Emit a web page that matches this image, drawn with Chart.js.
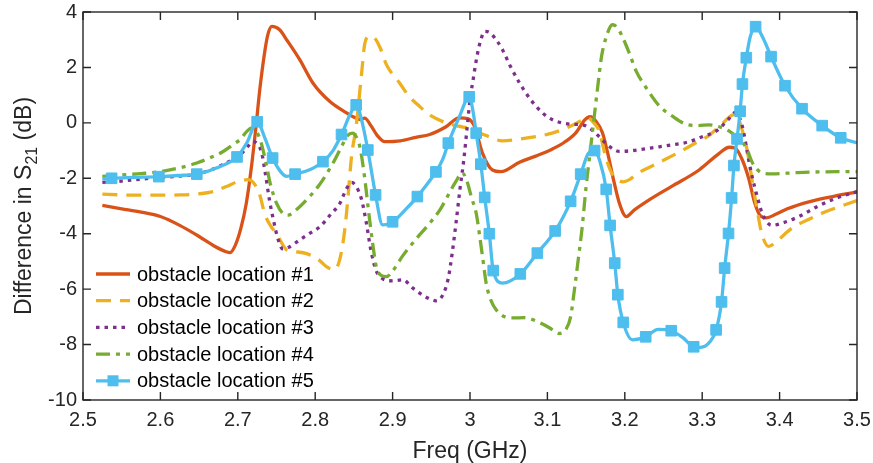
<!DOCTYPE html>
<html>
<head>
<meta charset="utf-8">
<script src="https://cdn.jsdelivr.net/npm/chart.js@4.4.1/dist/chart.umd.min.js"></script>
<style>
    html, body { margin: 0; padding: 0; background: #fff; }
    #wrap { width: 873px; height: 463px; }
</style>
</head>
<body>
<div id="wrap"><canvas id="grafico" width="873" height="463"></canvas></div>
<script>
// Eixos
const xTicks = [2.5, 2.6, 2.7, 2.8, 2.9, 3.0, 3.1, 3.2, 3.3, 3.4, 3.5];
const yTicks = [-10, -8, -6, -4, -2, 0, 2, 4];
const nomes = ['obstacle location #1', 'obstacle location #2', 'obstacle location #3', 'obstacle location #4', 'obstacle location #5'];

// obstacle location #1
const freq1 = [2.525,2.55,2.575,2.6,2.625,2.65,2.67,2.685,2.69,2.697,2.704,2.711,2.718,2.724,2.728,2.735,2.739,2.744,2.754,2.763,2.78,2.797,2.819,2.84,2.852,2.858,2.864,2.872,2.88,2.89,2.91,2.93,2.948,2.969,2.986,2.997,3.006,3.016,3.029,3.04,3.064,3.085,3.106,3.122,3.137,3.148,3.155,3.163,3.171,3.178,3.185,3.193,3.202,3.212,3.232,3.26,3.296,3.322,3.335,3.343,3.352,3.36,3.368,3.375,3.383,3.395,3.41,3.439,3.47,3.5];
const diff1 = [-2.98,-3.1,-3.22,-3.38,-3.7,-4.1,-4.45,-4.65,-4.68,-4.4,-3.8,-2.9,-1.5,0.0,1.1,2.6,3.2,3.48,3.36,3.0,2.28,1.44,0.77,0.37,0.18,0.12,0.17,-0.1,-0.45,-0.68,-0.65,-0.52,-0.42,-0.14,0.18,0.15,-0.14,-1.08,-1.7,-1.76,-1.42,-1.2,-0.95,-0.7,-0.35,0.1,0.22,0.05,-0.35,-1.1,-2.0,-2.9,-3.38,-3.15,-2.77,-2.3,-1.7,-1.1,-0.88,-0.92,-1.35,-2.0,-2.9,-3.35,-3.43,-3.3,-3.1,-2.84,-2.65,-2.5];

// obstacle location #2
const freq2 = [2.525,2.55,2.575,2.6,2.625,2.65,2.668,2.685,2.699,2.713,2.72,2.728,2.735,2.742,2.75,2.763,2.775,2.789,2.805,2.815,2.825,2.832,2.838,2.842,2.847,2.853,2.86,2.864,2.87,2.877,2.884,2.892,2.9,2.909,2.92,2.935,2.95,2.969,2.985,3.0,3.02,3.042,3.06,3.085,3.105,3.119,3.135,3.145,3.152,3.16,3.167,3.175,3.182,3.19,3.198,3.206,3.215,3.232,3.25,3.274,3.29,3.309,3.325,3.339,3.344,3.35,3.358,3.365,3.371,3.377,3.386,3.395,3.416,3.44,3.46,3.48,3.5];
const diff2 = [-2.57,-2.6,-2.61,-2.61,-2.6,-2.56,-2.48,-2.3,-2.13,-2.05,-2.15,-2.57,-3.3,-3.7,-4.0,-4.58,-4.65,-4.72,-4.95,-5.2,-5.3,-4.9,-3.9,-2.8,-1.2,-0.1,1.8,2.85,3.12,3.05,2.7,2.1,1.75,1.44,1.0,0.59,0.25,0.0,-0.12,-0.2,-0.45,-0.65,-0.6,-0.5,-0.38,-0.25,-0.05,0.1,0.18,0.0,-0.3,-1.2,-1.75,-2.05,-2.13,-2.05,-1.85,-1.6,-1.35,-1.0,-0.75,-0.45,-0.05,0.28,0.3,-0.1,-0.97,-2.17,-3.14,-4.0,-4.46,-4.3,-3.8,-3.45,-3.2,-3.0,-2.8];

// obstacle location #3
const freq3 = [2.525,2.55,2.575,2.6,2.625,2.647,2.665,2.681,2.695,2.705,2.713,2.719,2.725,2.731,2.736,2.741,2.746,2.752,2.758,2.765,2.78,2.795,2.806,2.82,2.832,2.84,2.847,2.853,2.86,2.866,2.872,2.879,2.887,2.9,2.913,2.926,2.944,2.956,2.965,2.972,2.977,2.982,2.987,2.992,2.996,3.0,3.004,3.009,3.014,3.019,3.026,3.035,3.042,3.052,3.064,3.078,3.094,3.106,3.119,3.132,3.145,3.155,3.167,3.18,3.193,3.21,3.235,3.26,3.283,3.3,3.318,3.333,3.343,3.348,3.352,3.356,3.36,3.365,3.37,3.378,3.39,3.405,3.425,3.45,3.475,3.5];
const diff3 = [-2.15,-2.1,-2.03,-1.97,-1.92,-1.85,-1.7,-1.5,-1.3,-1.1,-0.85,-0.68,-0.75,-1.1,-1.9,-2.8,-3.5,-4.2,-4.55,-4.5,-4.22,-3.95,-3.75,-3.3,-2.9,-2.4,-2.15,-2.3,-2.77,-3.6,-4.6,-5.35,-5.62,-5.7,-5.66,-5.96,-6.3,-6.42,-6.2,-5.6,-4.7,-3.6,-2.4,-1.33,-0.25,0.83,1.55,2.4,3.0,3.3,3.25,2.95,2.64,2.05,1.44,0.85,0.35,0.12,0.0,-0.05,-0.07,-0.2,-0.5,-0.85,-1.03,-1.0,-0.9,-0.8,-0.68,-0.5,-0.3,0.1,0.38,0.2,-0.14,-0.7,-1.33,-2.0,-2.55,-3.3,-3.7,-3.6,-3.38,-3.0,-2.7,-2.48];

// obstacle location #4
const freq4 = [2.525,2.55,2.575,2.6,2.625,2.647,2.665,2.68,2.693,2.703,2.712,2.718,2.724,2.73,2.736,2.742,2.75,2.758,2.765,2.775,2.789,2.805,2.823,2.835,2.842,2.848,2.853,2.858,2.864,2.869,2.874,2.879,2.885,2.892,2.9,2.913,2.93,2.948,2.962,2.972,2.982,2.99,2.996,3.002,3.008,3.012,3.017,3.021,3.027,3.034,3.045,3.055,3.07,3.081,3.093,3.103,3.115,3.124,3.13,3.135,3.14,3.145,3.15,3.155,3.16,3.165,3.17,3.176,3.184,3.19,3.197,3.206,3.215,3.228,3.245,3.261,3.279,3.295,3.309,3.322,3.335,3.348,3.357,3.365,3.377,3.39,3.42,3.45,3.5];
const diff4 = [-1.93,-1.88,-1.83,-1.76,-1.62,-1.45,-1.25,-1.05,-0.8,-0.6,-0.3,-0.18,-0.3,-0.7,-1.4,-2.2,-2.9,-3.26,-3.33,-3.15,-2.77,-2.25,-1.45,-0.8,-0.45,-0.37,-0.5,-0.9,-2.0,-3.2,-4.3,-5.2,-5.5,-5.55,-5.35,-4.8,-4.2,-3.62,-3.1,-2.6,-2.1,-1.8,-2.1,-2.7,-3.26,-3.98,-5.0,-5.8,-6.4,-6.75,-7.0,-7.04,-7.03,-7.1,-7.25,-7.4,-7.6,-7.45,-7.0,-6.0,-4.9,-3.75,-2.3,-1.1,0.1,1.3,2.4,3.1,3.54,3.45,3.1,2.5,1.85,1.25,0.6,0.25,-0.05,-0.1,-0.07,-0.14,-0.3,-0.6,-0.9,-1.45,-1.8,-1.84,-1.8,-1.77,-1.76];

// obstacle location #5 (marca5 = indices com marcador quadrado)
const freq5 = [2.525,2.537,2.568,2.598,2.623,2.647,2.675,2.699,2.712,2.725,2.735,2.745,2.755,2.763,2.774,2.792,2.81,2.823,2.834,2.845,2.853,2.86,2.868,2.878,2.887,2.9,2.916,2.932,2.945,2.956,2.965,2.972,2.986,2.999,3.004,3.008,3.014,3.019,3.025,3.03,3.042,3.065,3.087,3.11,3.13,3.143,3.153,3.161,3.168,3.176,3.181,3.187,3.191,3.198,3.21,3.227,3.243,3.26,3.275,3.289,3.298,3.31,3.318,3.325,3.329,3.334,3.338,3.341,3.345,3.349,3.352,3.357,3.362,3.369,3.378,3.389,3.407,3.429,3.455,3.479,3.5];
const diff5 = [-2.02,-2.0,-1.97,-1.94,-1.9,-1.85,-1.6,-1.23,-0.7,0.04,-0.55,-1.27,-1.75,-1.93,-1.85,-1.7,-1.4,-1.0,-0.42,0.3,0.65,0.1,-0.98,-2.6,-3.68,-3.57,-3.15,-2.66,-2.2,-1.77,-1.3,-0.73,0.2,0.94,0.4,-0.37,-1.49,-2.69,-4.0,-5.33,-5.78,-5.45,-4.7,-3.9,-2.83,-1.85,-1.1,-1.0,-1.4,-2.4,-3.7,-5.06,-6.2,-7.2,-7.83,-7.72,-7.45,-7.5,-7.75,-8.08,-8.1,-7.9,-7.47,-6.46,-5.24,-3.99,-2.71,-1.54,-0.58,0.42,1.4,2.35,3.1,3.47,3.1,2.39,1.34,0.51,-0.1,-0.54,-0.72];
const marca5 = [1,3,5,7,9,11,14,16,18,20,22,23,25,27,29,31,33,35,36,37,38,39,41,42,43,44,45,47,49,50,51,52,53,55,57,59,62,63,64,65,66,67,68,69,70,71,73,75,76,77,78,79];

const cores = ['#D95319', '#EDB120', '#7E2F8E', '#77AC30', '#4DBEEE'];
const tracos = [[], [15, 9], [3.5, 5], [14, 6, 4, 6], []];
const fonte = "'Liberation Sans', Arial, sans-serif";

function pares(xs, ys) {
    return xs.map((v, i) => ({x: v, y: ys[i]}));
}

function rotuloX(v) {
    return String(Number(v.toFixed(1)));
}

// zera o espaco extra que o Chart.js reserva para os rotulos
function semFolga(s) {
    s.paddingTop = 0;
    s.paddingBottom = 0;
    s.paddingLeft = 0;
    s.paddingRight = 0;
}

const series = [[freq1, diff1], [freq2, diff2], [freq3, diff3], [freq4, diff4], [freq5, diff5]];

const datasets = series.map((s, i) => ({
    label: nomes[i],
    data: pares(s[0], s[1]),
    borderColor: cores[i],
    backgroundColor: cores[i],
    borderWidth: 3.3,
    borderDash: tracos[i],
    borderCapStyle: 'butt',
    cubicInterpolationMode: 'monotone',
    pointStyle: 'rect',
    pointRadius: i === 4 ? (c => marca5.includes(c.dataIndex) ? 7.5 : 0) : 0,
    pointBorderWidth: 1,
    pointBorderColor: cores[i],
    pointBackgroundColor: cores[i],
    order: 5 - i
}));

// moldura, ticks internos, titulos dos eixos e legenda
const desenho = {
    id: 'desenho',
    afterDraw(chart) {
        const {ctx, chartArea: a, scales: {x, y}} = chart;
        ctx.save();
        ctx.strokeStyle = '#262626';
        ctx.lineWidth = 1.4;
        ctx.setLineDash([]);
        ctx.strokeRect(a.left, a.top, a.right - a.left, a.bottom - a.top);
        ctx.beginPath();
        xTicks.forEach(v => {
            const px = x.getPixelForValue(v);
            ctx.moveTo(px, a.bottom); ctx.lineTo(px, a.bottom - 8);
            ctx.moveTo(px, a.top); ctx.lineTo(px, a.top + 8);
        });
        yTicks.forEach(v => {
            const py = y.getPixelForValue(v);
            ctx.moveTo(a.left, py); ctx.lineTo(a.left + 8, py);
            ctx.moveTo(a.right, py); ctx.lineTo(a.right - 8, py);
        });
        ctx.stroke();

        // titulo do eixo x
        ctx.fillStyle = '#262626';
        ctx.font = '23px ' + fonte;
        ctx.textAlign = 'center';
        ctx.textBaseline = 'alphabetic';
        ctx.fillText('Freq (GHz)', (a.left + a.right) / 2, 458);

        // titulo do eixo y com subscrito
        const p1 = 'Difference in S', p2 = '21', p3 = ' (dB)';
        ctx.font = '23px ' + fonte;
        const w1 = ctx.measureText(p1).width, w3 = ctx.measureText(p3).width;
        ctx.font = '16px ' + fonte;
        const w2 = ctx.measureText(p2).width;
        const total = w1 + w2 + w3;
        ctx.translate(31, (a.top + a.bottom) / 2);
        ctx.rotate(-Math.PI / 2);
        ctx.textAlign = 'left';
        let pos = -total / 2;
        ctx.font = '23px ' + fonte;
        ctx.fillText(p1, pos, 0);
        pos += w1;
        ctx.font = '16px ' + fonte;
        ctx.fillText(p2, pos, 6);
        pos += w2;
        ctx.font = '23px ' + fonte;
        ctx.fillText(p3, pos, 0);
        ctx.setTransform(1, 0, 0, 1, 0, 0);

        // legenda
        const x0 = 96, x1 = 130, xt = 137, y0 = 274, passo = 26.7;
        chart.data.datasets.forEach((d, i) => {
            const ly = y0 + i * passo;
            ctx.strokeStyle = d.borderColor;
            ctx.lineWidth = d.borderWidth;
            ctx.lineCap = 'butt';
            ctx.setLineDash(d.borderDash);
            ctx.beginPath();
            ctx.moveTo(x0, ly); ctx.lineTo(x1, ly);
            ctx.stroke();
            ctx.setLineDash([]);
            if (i === 4) {
                ctx.fillStyle = d.borderColor;
                ctx.fillRect((x0 + x1) / 2 - 5.5, ly - 5.5, 11, 11);
            }
            ctx.fillStyle = '#000';
            ctx.font = '20px ' + fonte;
            ctx.textAlign = 'left';
            ctx.textBaseline = 'middle';
            ctx.fillText(d.label, xt, ly + 1);
        });
        ctx.restore();
    }
};

const grafico = new Chart(document.getElementById('grafico').getContext('2d'), {
    type: 'line',
    data: {datasets},
    options: {
        responsive: false,
        animation: false,
        devicePixelRatio: 1,
        layout: {padding: {left: 0, right: 16, top: 12, bottom: 0}},
        plugins: {
            legend: {display: false},
            tooltip: {enabled: false}
        },
        scales: {
            x: {
                type: 'linear',
                min: 2.5,
                max: 3.5,
                afterBuildTicks: s => { s.ticks = xTicks.map(v => ({value: v})); },
                afterFit: s => { s.height = 63; semFolga(s); },
                grid: {display: false, drawTicks: false},
                border: {display: false},
                ticks: {
                    callback: v => rotuloX(v),
                    maxRotation: 0,
                    autoSkip: false,
                    padding: 8,
                    color: '#262626',
                    font: {family: fonte, size: 20}
                }
            },
            y: {
                type: 'linear',
                min: -10,
                max: 4,
                afterBuildTicks: s => { s.ticks = yTicks.map(v => ({value: v})); },
                afterFit: s => { s.width = 83; semFolga(s); },
                grid: {display: false, drawTicks: false},
                border: {display: false},
                ticks: {
                    callback: v => String(v),
                    padding: 6,
                    color: '#262626',
                    font: {family: fonte, size: 20}
                }
            }
        }
    },
    plugins: [desenho]
});
</script>
</body>
</html>
